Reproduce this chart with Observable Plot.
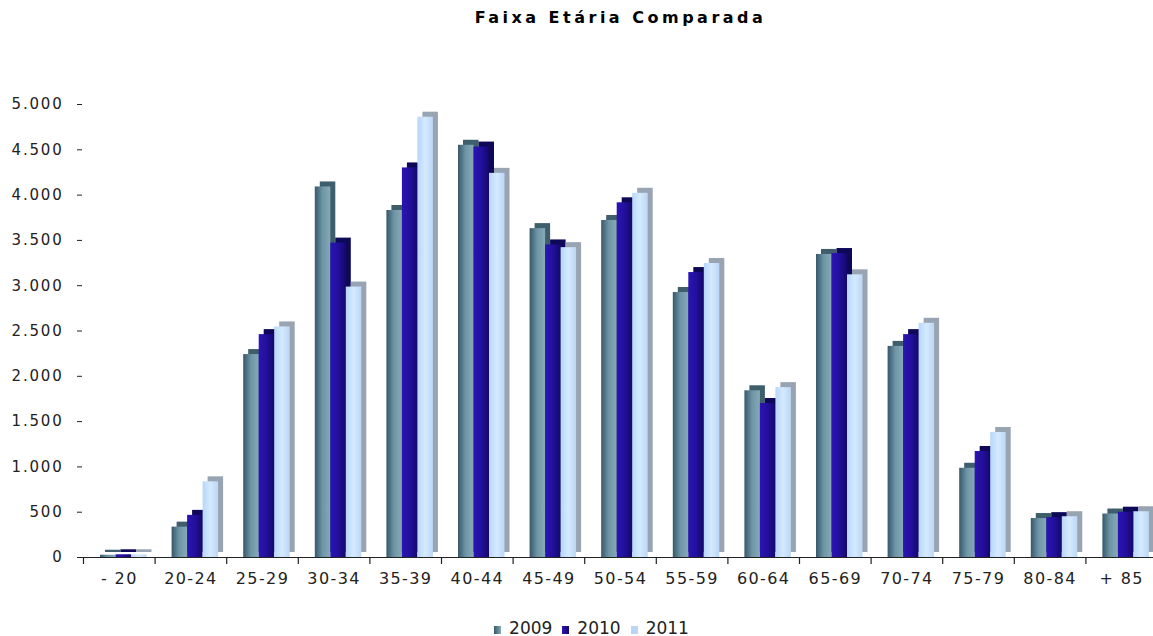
<!DOCTYPE html>
<html><head><meta charset="utf-8">
<script src="https://cdn.jsdelivr.net/npm/d3@7"></script>
<script src="https://cdn.jsdelivr.net/npm/@observablehq/plot@0.6"></script>
<style>
body{margin:0;background:#fff;font-family:"DejaVu Sans",sans-serif;width:1153px;height:636px;overflow:hidden;}
#title{height:40px;box-sizing:border-box;padding-left:88px;text-align:center;font-weight:bold;font-size:16px;letter-spacing:3.5px;line-height:36px;color:#000;}
#chart{height:567px;}
#legend{height:29px;box-sizing:border-box;padding-top:12px;padding-left:30px;text-align:center;font-size:17px;line-height:18px;color:#222;}
#legend span.item{margin:0 5px;}
#legend span.sw{display:inline-block;width:7px;height:8px;margin-right:8px;vertical-align:0px;}
g[aria-label="y-axis tick label"] text{letter-spacing:1.8px;}
g[aria-label="x-axis tick label"] text{letter-spacing:1.4px;}
</style></head><body>
<div id="title">Faixa Etária Comparada</div>
<div id="chart"></div>
<div id="legend"></div>
<script>
const categories = ["- 20","20-24","25-29","30-34","35-39","40-44","45-49","50-54","55-59","60-64","65-69","70-74","75-79","80-84","+ 85"];
const years = ["2009","2010","2011"];
const values2009 = [25, 335, 2240, 4090, 3830, 4550, 3630, 3720, 2925, 1840, 3345, 2330, 985, 430, 480];
const values2010 = [30, 465, 2460, 3470, 4300, 4530, 3450, 3915, 3145, 1700, 3355, 2460, 1170, 440, 500];
const values2011 = [30, 835, 2545, 2985, 4860, 4240, 3420, 4020, 3245, 1875, 3120, 2585, 1380, 450, 505];
const yTicks = [0,500,1000,1500,2000,2500,3000,3500,4000,4500,5000];

const seriesValues = [values2009, values2010, values2011];
const frontStops = [
  ["#36586a","#6f96a6","#86aab6"],
  ["#2c14b4","#22109c","#14086a"],
  ["#b8d6fa","#d4eaff","#bcd6f4"]
];
const sideColors = ["#3e5e6c","#0e0858","#98a4b2"];

const xRange = [83, 1157];
const bw = (xRange[1] - xRange[0]) / categories.length;
const barW = 15.5, padL = 17;

const ns = "http://www.w3.org/2000/svg";
function defsMark() {
  const defs = document.createElementNS(ns, "defs");
  frontStops.forEach((stops, i) => {
    const g = document.createElementNS(ns, "linearGradient");
    g.setAttribute("id", "grad" + i);
    g.setAttribute("x1", "0"); g.setAttribute("x2", "1"); g.setAttribute("y1", "0"); g.setAttribute("y2", "0");
    stops.forEach((c, k) => {
      const s = document.createElementNS(ns, "stop");
      s.setAttribute("offset", (k / (stops.length - 1) * 100) + "%");
      s.setAttribute("stop-color", c);
      g.appendChild(s);
    });
    defs.appendChild(g);
  });
  return defs;
}

const fmt = d => d3.format(",")(d).replace(/,/g, ".");

const marks = [defsMark];
years.forEach((yr, i) => {
  const rows = categories.map((c, j) => ({cat: c, v: seriesValues[i][j], year: yr}));
  const insetLeft = padL + barW * i;
  const insetRight = bw - padL - barW * (i + 1);
  marks.push(Plot.barY(rows, {x: "cat", y: "v", insetLeft, insetRight, dx: 5, dy: -5, fill: sideColors[i]}));
  marks.push(Plot.barY(rows, {x: "cat", y: "v", insetLeft, insetRight, fill: `url(#grad${i})`}));
});
marks.push(Plot.ruleY([0], {stroke: "#222", strokeWidth: 1.2}));
marks.push(Plot.ruleX(categories, {x: d => d, dx: -bw / 2, insetTop: 453, insetBottom: -7, stroke: "#222", strokeWidth: 1.2}));
marks.push(Plot.axisY({ticks: yTicks, tickFormat: fmt, tickSize: 5, tickPadding: 14, line: true, label: null, fontSize: 15, stroke: "#222"}));
marks.push(Plot.axisX({tickSize: 0, tickPadding: 15, label: null, fontSize: 16}));

const chart = Plot.plot({
  width: 1153,
  height: 567,
  marginTop: 64,
  marginBottom: 50,
  marginLeft: 82,
  marginRight: 0,
  style: {fontFamily: "DejaVu Sans", color: "#222", background: "#fff"},
  x: {domain: categories, range: xRange, padding: 0, round: false, axis: null},
  y: {domain: [0, 5000], axis: null},
  marks
});
document.getElementById("chart").appendChild(chart);

const legend = document.getElementById("legend");
years.forEach((yr, i) => {
  const item = document.createElement("span");
  item.className = "item";
  const sw = document.createElement("span");
  sw.className = "sw";
  sw.style.background = `linear-gradient(to right, ${frontStops[i][0]}, ${frontStops[i][2]})`;
  item.appendChild(sw);
  item.appendChild(document.createTextNode(yr));
  legend.appendChild(item);
});
</script>
</body></html>
